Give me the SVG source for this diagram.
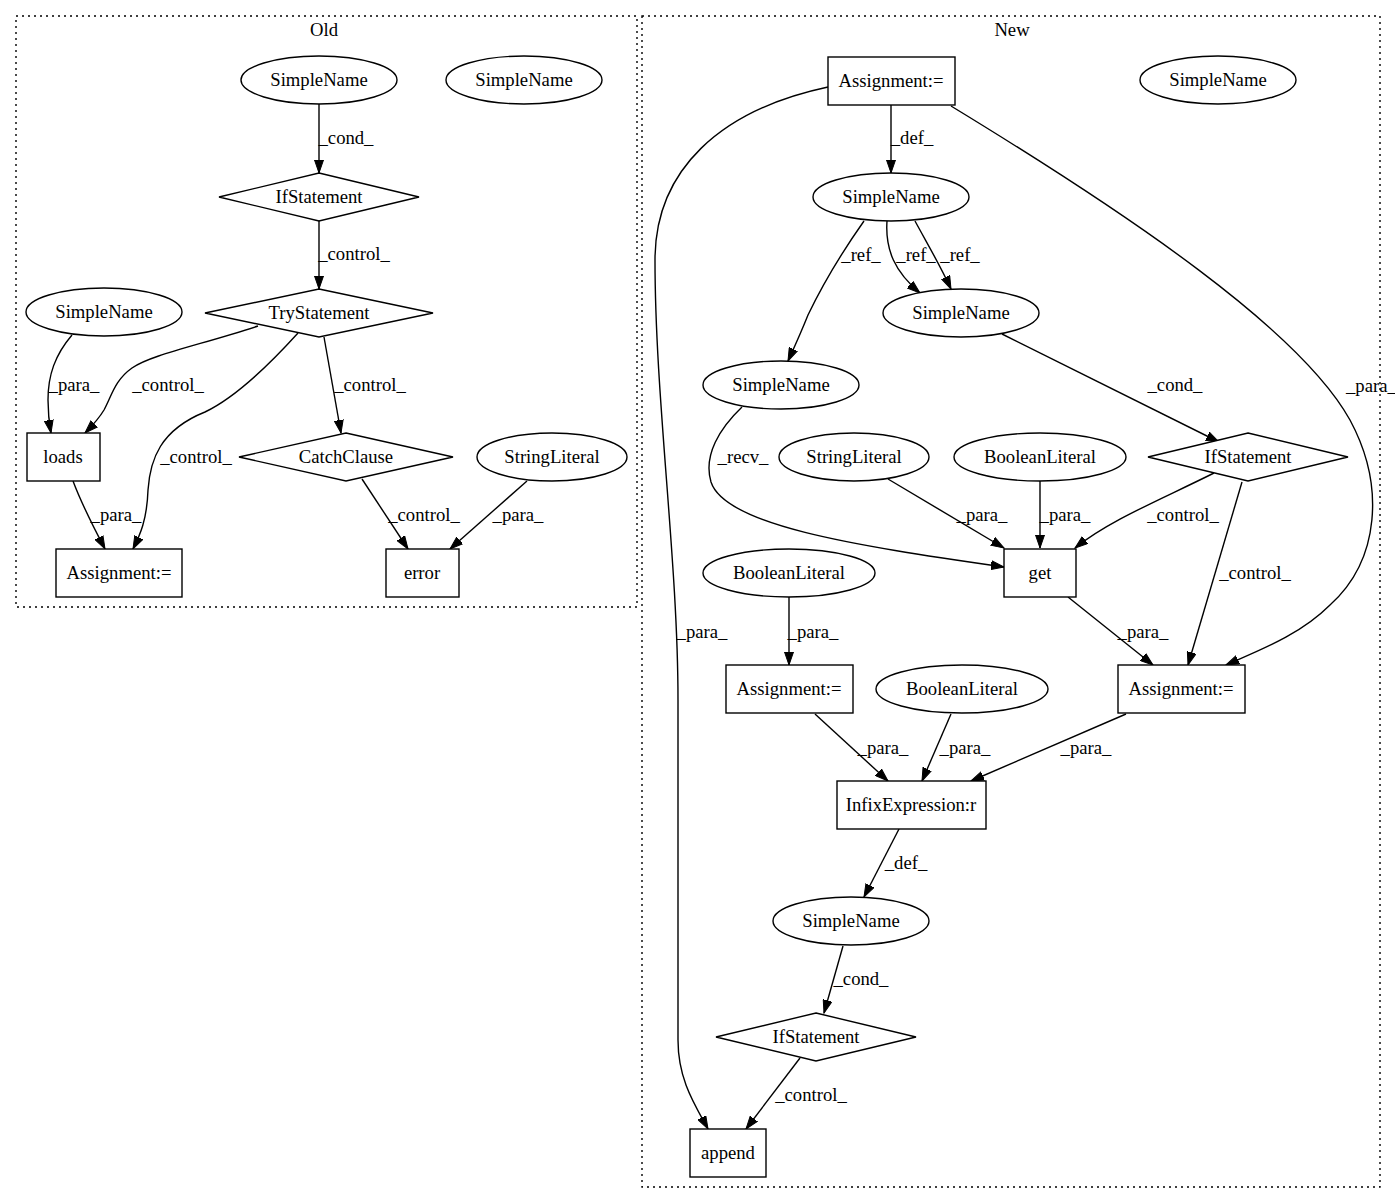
<svg xmlns="http://www.w3.org/2000/svg" width="1395" height="1204" viewBox="0 0 1395 1204">
<style>
text{font-family:"Liberation Serif","Times New Roman",serif;font-size:18.67px;fill:#000;text-anchor:middle}
.n{fill:#fff;stroke:#000;stroke-width:1.4}
.e{fill:none;stroke:#000;stroke-width:1.4;marker-end:url(#ah)}
.c{fill:none;stroke:#000;stroke-width:1.4;stroke-dasharray:2,4}
</style>
<defs>
<marker id="ah" markerUnits="userSpaceOnUse" markerWidth="14" markerHeight="10" refX="13" refY="5" orient="auto">
<path d="M0,0.5 L13,5 L0,9.5 z" fill="#000" stroke="#000" stroke-width="1"/>
</marker>
</defs>
<rect width="1395" height="1204" fill="#fff"/>
<g id="cluster_old">
<rect class="c" x="16" y="16" width="621" height="591"/>
<text x="324" y="36">Old</text>
</g>
<g id="cluster_new">
<rect class="c" x="642" y="16" width="738" height="1171"/>
<text x="1012" y="36">New</text>
</g>
<g id="edges">
<path class="e" d="M319,104 L319,173"/>
<text x="346" y="144">_cond_</text>
<path class="e" d="M319,221 L319,289"/>
<text x="354" y="260">_control_</text>
<path class="e" d="M72,335 C55,355 48,375 48,400 C48,412 49,422 51,433"/>
<text x="74" y="391">_para_</text>
<path class="e" d="M258,326 C200,345 150,355 132,368 C115,380 112,395 104,410 C98,420 91,427 85,433"/>
<text x="168" y="391">_control_</text>
<path class="e" d="M298,333 C260,375 230,400 205,412 C160,430 150,460 148,490 C147,520 140,535 133,549"/>
<text x="196" y="463">_control_</text>
<path class="e" d="M324,337 L341,433"/>
<text x="370" y="391">_control_</text>
<path class="e" d="M362,479 L408,549"/>
<text x="424" y="521">_control_</text>
<path class="e" d="M527,481 L450,549"/>
<text x="518" y="521">_para_</text>
<path class="e" d="M73,481 C82,505 95,530 105,549"/>
<text x="116" y="521">_para_</text>

<path class="e" d="M891,105 L891,173"/>
<text x="912" y="144">_def_</text>
<path class="e" d="M828,87 C720,110 655,170 655,260 C655,400 678,560 678,700 L678,1040 C678,1080 695,1105 708,1129"/>
<text x="702" y="638">_para_</text>
<path class="e" d="M951,106 C1130,215 1300,330 1350,420 C1385,485 1380,560 1330,605 C1300,635 1260,650 1226,665"/>
<text x="1346" y="392" style="text-anchor:start">_para_</text>
<path class="e" d="M864,221 C840,255 820,290 808,315 C800,335 793,350 788,361"/>
<text x="861" y="261">_ref_</text>
<path class="e" d="M887,221 C885,250 895,272 920,293"/>
<text x="916" y="261">_ref_</text>
<path class="e" d="M915,221 C928,245 940,265 951,289"/>
<text x="960" y="261">_ref_</text>
<path class="e" d="M1002,334 L1219,442"/>
<text x="1175" y="391">_cond_</text>
<path class="e" d="M742,407 C720,428 703,455 711,482 C725,525 850,545 1004,567"/>
<text x="743" y="463">_recv_</text>
<path class="e" d="M888,479 L1004,548"/>
<text x="982" y="521">_para_</text>
<path class="e" d="M1040,481 L1040,548"/>
<text x="1065" y="521">_para_</text>
<path class="e" d="M1214,473 C1160,500 1110,520 1075,548"/>
<text x="1183" y="521">_control_</text>
<path class="e" d="M1242,482 L1188,665"/>
<text x="1255" y="579">_control_</text>
<path class="e" d="M1068,597 L1153,665"/>
<text x="1143" y="638">_para_</text>
<path class="e" d="M789,597 L789,665"/>
<text x="813" y="638">_para_</text>
<path class="e" d="M815,714 L888,781"/>
<text x="883" y="754">_para_</text>
<path class="e" d="M951,714 L922,781"/>
<text x="965" y="754">_para_</text>
<path class="e" d="M1126,714 L971,781"/>
<text x="1086" y="754">_para_</text>
<path class="e" d="M899,829 L864,897"/>
<text x="906" y="869">_def_</text>
<path class="e" d="M843,946 L824,1013"/>
<text x="861" y="985">_cond_</text>
<path class="e" d="M800,1058 L746,1129"/>
<text x="811" y="1101">_control_</text>
</g>

<g id="old_sn1"><ellipse class="n" cx="319" cy="80" rx="78" ry="24"/><text x="319" y="86">SimpleName</text></g>
<g id="old_sn2"><ellipse class="n" cx="524" cy="80" rx="78" ry="24"/><text x="524" y="86">SimpleName</text></g>
<g id="old_if"><polygon class="n" points="319,173 419,197 319,221 219,197"/><text x="319" y="203">IfStatement</text></g>
<g id="old_try"><polygon class="n" points="319,289 433,313 319,337 205,313"/><text x="319" y="319">TryStatement</text></g>
<g id="old_sn3"><ellipse class="n" cx="104" cy="312" rx="78" ry="24"/><text x="104" y="318">SimpleName</text></g>
<g id="old_loads"><rect class="n" x="27" y="433" width="73" height="48"/><text x="63" y="463">loads</text></g>
<g id="old_catch"><polygon class="n" points="346,433 453,457 346,481 239,457"/><text x="346" y="463">CatchClause</text></g>
<g id="old_str"><ellipse class="n" cx="552" cy="457" rx="75" ry="24"/><text x="552" y="463">StringLiteral</text></g>
<g id="old_assign"><rect class="n" x="56" y="549" width="126" height="48"/><text x="119" y="579">Assignment:=</text></g>
<g id="old_error"><rect class="n" x="386" y="549" width="73" height="48"/><text x="422" y="579">error</text></g>

<g id="new_assign1"><rect class="n" x="828" y="57" width="127" height="48"/><text x="891" y="87">Assignment:=</text></g>
<g id="new_sn_right"><ellipse class="n" cx="1218" cy="80" rx="78" ry="24"/><text x="1218" y="86">SimpleName</text></g>
<g id="new_sn_def"><ellipse class="n" cx="891" cy="197" rx="78" ry="24"/><text x="891" y="203">SimpleName</text></g>
<g id="new_sn_ref"><ellipse class="n" cx="961" cy="313" rx="78" ry="24"/><text x="961" y="319">SimpleName</text></g>
<g id="new_sn_recv"><ellipse class="n" cx="781" cy="385" rx="78" ry="24"/><text x="781" y="391">SimpleName</text></g>
<g id="new_str"><ellipse class="n" cx="854" cy="457" rx="75" ry="24"/><text x="854" y="463">StringLiteral</text></g>
<g id="new_bool1"><ellipse class="n" cx="1040" cy="457" rx="86" ry="24"/><text x="1040" y="463">BooleanLiteral</text></g>
<g id="new_if1"><polygon class="n" points="1248,433 1348,457 1248,481 1148,457"/><text x="1248" y="463">IfStatement</text></g>
<g id="new_get"><rect class="n" x="1004" y="549" width="72" height="48"/><text x="1040" y="579">get</text></g>
<g id="new_bool2"><ellipse class="n" cx="789" cy="573" rx="86" ry="24"/><text x="789" y="579">BooleanLiteral</text></g>
<g id="new_assign2"><rect class="n" x="726" y="665" width="127" height="48"/><text x="789" y="695">Assignment:=</text></g>
<g id="new_bool3"><ellipse class="n" cx="962" cy="689" rx="86" ry="24"/><text x="962" y="695">BooleanLiteral</text></g>
<g id="new_assign3"><rect class="n" x="1118" y="665" width="127" height="48"/><text x="1181" y="695">Assignment:=</text></g>
<g id="new_infix"><rect class="n" x="837" y="781" width="149" height="48"/><text x="911" y="811">InfixExpression:r</text></g>
<g id="new_sn_cond"><ellipse class="n" cx="851" cy="921" rx="78" ry="24"/><text x="851" y="927">SimpleName</text></g>
<g id="new_if2"><polygon class="n" points="816,1013 916,1037 816,1061 716,1037"/><text x="816" y="1043">IfStatement</text></g>
<g id="new_append"><rect class="n" x="690" y="1129" width="76" height="48"/><text x="728" y="1159">append</text></g>
</svg>
